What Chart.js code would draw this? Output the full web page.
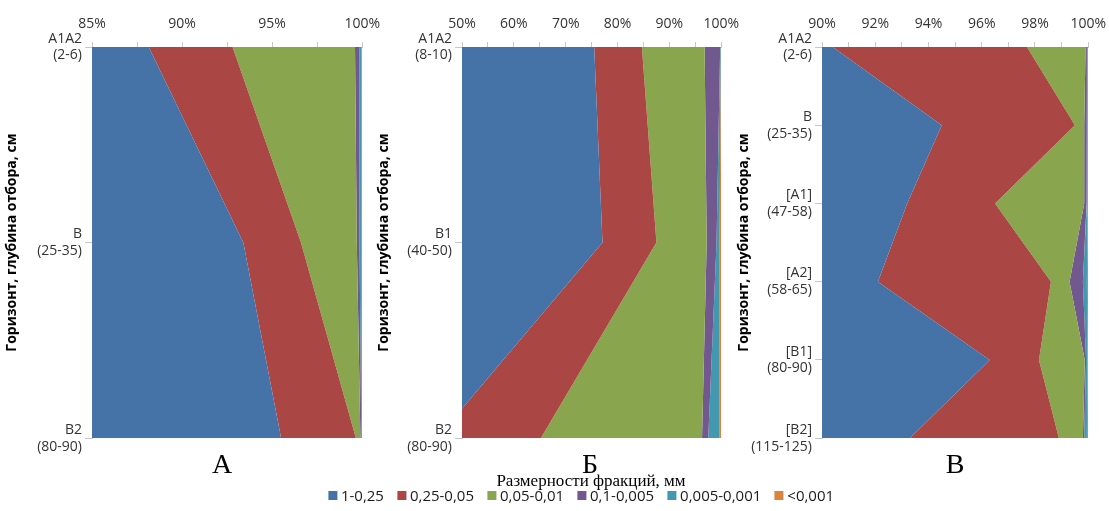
<!DOCTYPE html>
<html><head><meta charset="utf-8">
<script src="https://cdn.jsdelivr.net/npm/chart.js@4"></script>
<style>
html,body{margin:0;padding:0;background:#fff}
body{width:1109px;height:511px;position:relative;overflow:hidden;font-family:"Open Sans",sans-serif}
.pane{position:absolute;top:0;height:458px}
.letter{position:absolute;top:450px;font-family:"Liberation Serif","Times New Roman",serif;font-size:28px;line-height:1;color:#000;transform:translateX(-50%);white-space:nowrap}
#ltitle{position:absolute;top:472px;left:591px;transform:translateX(-50%);font-family:"Liberation Serif","Times New Roman",serif;font-size:17px;line-height:1;color:#000;white-space:nowrap}
#legend{position:absolute;top:488px;left:581px;transform:translateX(-50%);display:flex;align-items:center;font-size:15px;line-height:1;color:#1a1a1a;white-space:nowrap}
#legend .it{display:flex;align-items:center;margin:0 6.5px}
#legend .sw{width:9px;height:9px;margin-right:4px}
</style></head>
<body>
<div class="pane" style="left:0;width:390px"><canvas id="cA"></canvas></div>
<div class="pane" style="left:372px;width:377px"><canvas id="cB"></canvas></div>
<div class="pane" style="left:732px;width:384px"><canvas id="cC"></canvas></div>
<div class="letter" style="left:222px">А</div>
<div class="letter" style="left:590px">Б</div>
<div class="letter" style="left:955px">В</div>
<div id="ltitle">Размерности фракций, мм</div>
<div id="legend"></div>
<script>
// Fractions (series)
const fractionNames = ['1-0,25','0,25-0,05','0,05-0,01','0,1-0,005','0,005-0,001','<0,001'];
const fractionColors = ['#4572A7','#AA4643','#89A54E','#71588F','#4198AF','#DB843D'];
const yTitle = 'Горизонт, глубина отбора, см';

// Panel А
const catsA = [['A1A2','(2-6)'],['B','(25-35)'],['B2','(80-90)']];
const ticksA = ['85%','90%','95%','100%'];
const A_f1 = [88.15, 93.4, 95.5];
const A_f2 = [4.65, 3.2, 4.15];
const A_f3 = [6.8, 3.1, 0.25];
const A_f4 = [0.25, 0.15, 0.05];
const A_f5 = [0.1, 0.1, 0.03];
const A_f6 = [0.05, 0.05, 0.02];

// Panel Б
const catsB = [['A1A2','(8-10)'],['B1','(40-50)'],['B2','(80-90)']];
const ticksB = ['50%','60%','70%','80%','90%','100%'];
const B_f1 = [75.5, 77.1, 45.2];
const B_f2 = [9.2, 10.4, 20.0];
const B_f3 = [12.1, 9.7, 31.1];
const B_f4 = [3.0, 1.9, 1.2];
const B_f5 = [0.1, 0.6, 2.2];
const B_f6 = [0.1, 0.3, 0.3];

// Panel В
const catsC = [['A1A2','(2-6)'],['B','(25-35)'],['[A1]','(47-58)'],['[A2]','(58-65)'],['[B1]','(80-90)'],['[B2]','(115-125)']];
const ticksC = ['90%','92%','94%','96%','98%','100%'];
const C_f1 = [90.4, 94.5, 93.2, 92.1, 96.3, 93.3];
const C_f2 = [7.3, 5.0, 3.3, 6.5, 1.85, 5.6];
const C_f3 = [2.2, 0.35, 3.35, 0.7, 1.72, 0.9];
const C_f4 = [0.05, 0.08, 0.1, 0.5, 0.05, 0.05];
const C_f5 = [0.03, 0.05, 0.03, 0.15, 0.05, 0.1];
const C_f6 = [0.02, 0.02, 0.02, 0.05, 0.03, 0.05];

const FONT = '"Open Sans", sans-serif';
const GRID = '#c8c8c8';

function makeChart(id, cats, series, tickLabels, axisWidth) {
  const vals = tickLabels.map(t => parseFloat(t));
  const min = vals[0], max = vals[vals.length - 1];
  const step = (vals[1] - vals[0]) / 2;
  const datasets = series.map((d, i) => ({
    label: fractionNames[i],
    data: d,
    backgroundColor: fractionColors[i],
    borderColor: fractionColors[i],
    borderWidth: 0,
    pointRadius: 0,
    pointHoverRadius: 0,
    tension: 0,
    fill: i === 0 ? 'origin' : '-1'
  }));
  return new Chart(document.getElementById(id), {
    type: 'line',
    data: { labels: cats, datasets },
    options: {
      indexAxis: 'y',
      responsive: true,
      maintainAspectRatio: false,
      animation: false,
      events: [],
      layout: { padding: { top: 0, right: 20, bottom: 18, left: 0 } },
      plugins: { legend: { display: false }, tooltip: { enabled: false }, filler: { propagate: false } },
      scales: {
        x: {
          type: 'linear',
          position: 'top',
          stacked: true,
          min, max,
          ticks: {
            stepSize: step,
            autoSkip: false,
            maxRotation: 0,
            padding: 10,
            color: '#333',
            font: { family: FONT, size: 14 },
            callback: v => {
              const k = vals.findIndex(x => Math.abs(x - v) < 1e-6);
              return k >= 0 ? tickLabels[k] : '';
            }
          },
          grid: { drawOnChartArea: false, tickLength: 5, color: GRID },
          border: { display: true, color: GRID },
          afterFit: s => { s.height = 47; }
        },
        y: {
          type: 'category',
          offset: false,
          ticks: {
            autoSkip: false,
            padding: 3,
            color: '#333',
            font: { family: FONT, size: 14 }
          },
          grid: { drawOnChartArea: false, offset: false, tickLength: 7, color: GRID },
          border: { display: true, color: GRID },
          title: {
            display: true,
            text: yTitle,
            color: '#000',
            font: { family: FONT, size: 14, weight: 'bold' },
            padding: { top: 4, bottom: 0 }
          },
          afterFit: s => { s.width = axisWidth; }
        }
      }
    }
  });
}

makeChart('cA', catsA, [A_f1, A_f2, A_f3, A_f4, A_f5, A_f6], ticksA, 92);
makeChart('cB', catsB, [B_f1, B_f2, B_f3, B_f4, B_f5, B_f6], ticksB, 90);
makeChart('cC', catsC, [C_f1, C_f2, C_f3, C_f4, C_f5, C_f6], ticksC, 90);

// HTML legend built from the series arrays
const lg = document.getElementById('legend');
fractionNames.forEach((n, i) => {
  const it = document.createElement('div');
  it.className = 'it';
  const sw = document.createElement('span');
  sw.className = 'sw';
  sw.style.background = fractionColors[i];
  const tx = document.createElement('span');
  tx.textContent = n;
  it.appendChild(sw); it.appendChild(tx);
  lg.appendChild(it);
});
</script>
</body></html>
